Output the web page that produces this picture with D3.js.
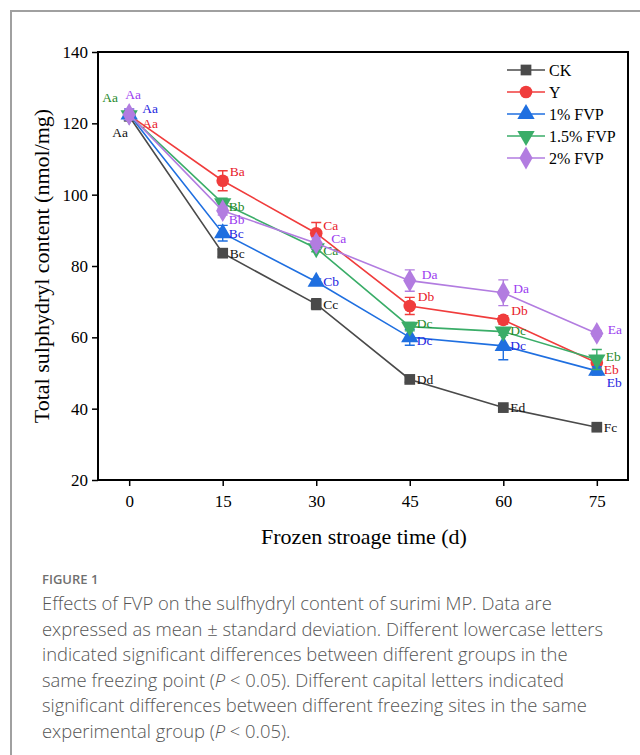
<!DOCTYPE html>
<html>
<head>
<meta charset="utf-8">
<script src="https://cdn.jsdelivr.net/npm/d3@7"></script>
<style>
  body { margin: 0; background: #fff; }
  svg { display: block; }
</style>
</head>
<body>
<svg id="chart" width="640" height="755"></svg>
<script>
// dane
const days = [0, 15, 30, 45, 60, 75];
const seriesNames = ["CK", "Y", "1% FVP", "1.5% FVP", "2% FVP"];
const ckValues = [122.0, 83.6, 69.3, 48.2, 40.3, 34.8];
const yValues = [122.3, 103.9, 89.2, 68.8, 64.9, 52.9];
const fvp1Values = [122.5, 89.2, 75.6, 60.0, 57.6, 50.6];
const fvp15Values = [122.3, 97.6, 85.0, 63.0, 61.6, 53.8];
const fvp2Values = [122.5, 95.5, 86.4, 75.9, 72.5, 61.1];
const ckErr = [1.2, 1.0, 1.5, 0.8, 0.7, 0.8];
const yErr = [1.0, 2.8, 3.0, 2.4, 1.2, 1.5];
const fvp1Err = [1.5, 2.2, 0.8, 2.2, 3.9, 1.2];
const fvp15Err = [1.2, 1.4, 1.0, 1.2, 1.0, 2.8];
const fvp2Err = [1.5, 1.2, 1.5, 3.0, 3.6, 0.8];
const ckLetters = ["Aa", "Bc", "Cc", "Dd", "Ed", "Fc"];
const yLetters = ["Aa", "Ba", "Ca", "Db", "Db", "Eb"];
const fvp1Letters = ["Aa", "Bc", "Cb", "Dc", "Dc", "Eb"];
const fvp15Letters = ["Aa", "Bb", "Ca", "Dc", "Dc", "Eb"];
const fvp2Letters = ["Aa", "Bb", "Ca", "Da", "Da", "Ea"];
const yTicks = [20, 40, 60, 80, 100, 120, 140];

// przesunięcia etykiet (układ, nie dane)
const labelOffsets = [
  [[-17, 16], [7, 0], [7, 0], [7, 0], [7, 0], [7, 0]],
  [[13, 8], [7, -9], [7, -8], [8, -9], [8, -9], [7, 7]],
  [[13, -6], [6, 0], [7, 0], [7, 3], [7, 0], [10, 12]],
  [[-27, -18], [6, 3], [7, 2], [7, -3], [7, -1], [9, -3]],
  [[-4, -20], [6, 9], [15, -5], [12, -6], [10, -4], [11, -4]]
];
const lineColors = ["#4a4a4a", "#f03c3c", "#1f6fe0", "#3aad68", "#b27ce0"];
const labelColors = ["#111111", "#e8202a", "#2424e0", "#1f8a2a", "#9b3cf0"];
const symbols = [d3.symbolSquare, d3.symbolCircle, d3.symbolTriangle, d3.symbolTriangle, d3.symbolDiamond];
const symbolSizes = [115, 125, 130, 130, 150];

const series = [
  { values: ckValues, err: ckErr, letters: ckLetters },
  { values: yValues, err: yErr, letters: yLetters },
  { values: fvp1Values, err: fvp1Err, letters: fvp1Letters },
  { values: fvp15Values, err: fvp15Err, letters: fvp15Letters },
  { values: fvp2Values, err: fvp2Err, letters: fvp2Letters }
];

const svg = d3.select("#chart");
const serif = "'Liberation Serif', 'Times New Roman', serif";

// ramka strony
svg.append("path")
  .attr("d", "M11,755 L11,11 L640,11")
  .attr("fill", "none")
  .attr("stroke", "#a0a0a0")
  .attr("stroke-width", 2);

const plotLeft = 98, plotRight = 628, plotTop = 52, plotBottom = 480;
const x = d3.scaleLinear().domain([-5, 80]).range([plotLeft, plotRight]);
const y = d3.scaleLinear().domain([20, 140]).range([plotBottom, plotTop]);

// osie
const yAxis = svg.append("g")
  .attr("transform", `translate(${plotLeft},0)`)
  .call(d3.axisLeft(y).tickValues(yTicks).tickSize(6).tickPadding(4).tickSizeOuter(0));
const xAxis = svg.append("g")
  .attr("transform", `translate(0,${plotBottom})`)
  .call(d3.axisBottom(x).tickValues(days).tickSize(6).tickPadding(9).tickSizeOuter(0));
[yAxis, xAxis].forEach(g => {
  g.select(".domain").remove();
  g.selectAll("line").attr("stroke", "#000").attr("stroke-width", 1.5);
  g.selectAll("text").attr("font-family", serif).attr("font-size", 17).attr("fill", "#000");
});

svg.append("rect")
  .attr("x", plotLeft).attr("y", plotTop)
  .attr("width", plotRight - plotLeft).attr("height", plotBottom - plotTop)
  .attr("fill", "none").attr("stroke", "#000").attr("stroke-width", 2);

svg.append("text")
  .attr("transform", `translate(49,${(plotTop + plotBottom) / 2}) rotate(-90)`)
  .attr("text-anchor", "middle")
  .attr("font-family", serif).attr("font-size", 22)
  .text("Total sulphydryl content (nmol/mg)");
svg.append("text")
  .attr("x", 364).attr("y", 544)
  .attr("text-anchor", "middle")
  .attr("font-family", serif).attr("font-size", 22)
  .text("Frozen stroage time (d)");

const line = d3.line().x((d, i) => x(days[i])).y(d => y(d));

series.forEach((s, k) => {
  const g = svg.append("g");
  g.append("path")
    .attr("d", line(s.values))
    .attr("fill", "none")
    .attr("stroke", lineColors[k])
    .attr("stroke-width", 1.6);

  // słupki błędów
  s.values.forEach((v, i) => {
    const cx = x(days[i]);
    const y1 = y(v + s.err[i]), y2 = y(v - s.err[i]);
    g.append("path")
      .attr("d", `M${cx},${y1}V${y2}M${cx - 5},${y1}H${cx + 5}M${cx - 5},${y2}H${cx + 5}`)
      .attr("stroke", lineColors[k])
      .attr("stroke-width", 1.4)
      .attr("fill", "none");
  });

  const rot = k === 3 ? 180 : 0;
  g.selectAll(".pt")
    .data(s.values)
    .join("path")
    .attr("d", d3.symbol().type(symbols[k]).size(symbolSizes[k]))
    .attr("transform", (d, i) => `translate(${x(days[i])},${y(d)}) rotate(${rot})`)
    .attr("fill", lineColors[k]);

  g.selectAll(".lbl")
    .data(s.letters)
    .join("text")
    .attr("x", (d, i) => x(days[i]) + labelOffsets[k][i][0])
    .attr("y", (d, i) => y(s.values[i]) + labelOffsets[k][i][1])
    .attr("dominant-baseline", "central")
    .attr("font-family", serif).attr("font-size", 13.5)
    .attr("fill", labelColors[k])
    .text(d => d);
});

// legenda
const legend = svg.append("g").attr("transform", "translate(507,70)");
seriesNames.forEach((name, k) => {
  const row = legend.append("g").attr("transform", `translate(0,${k * 22})`);
  row.append("line").attr("x1", 0).attr("x2", 38)
    .attr("stroke", lineColors[k]).attr("stroke-width", 1.6);
  row.append("path")
    .attr("d", d3.symbol().type(symbols[k]).size(symbolSizes[k]))
    .attr("transform", `translate(19,0) rotate(${k === 3 ? 180 : 0})`)
    .attr("fill", lineColors[k]);
  row.append("text").attr("x", 42).attr("y", 0)
    .attr("dominant-baseline", "central")
    .attr("font-family", serif).attr("font-size", 16)
    .text(name);
});

// podpis rysunku
const sans = "'Open Sans', 'Noto Sans', sans-serif";
svg.append("text")
  .attr("x", 42).attr("y", 584)
  .attr("font-family", sans).attr("font-size", 13).attr("font-weight", 600)
  .attr("fill", "#707070")
  .text("FIGURE 1");
const captionLines = [
  "Effects of FVP on the sulfhydryl content of surimi MP. Data are",
  "expressed as mean \u00b1 standard deviation. Different lowercase letters",
  "indicated significant differences between different groups in the",
  "same freezing point (<i>P</i> < 0.05). Different capital letters indicated",
  "significant differences between different freezing sites in the same",
  "experimental group (<i>P</i> < 0.05)."
];
const cap = svg.append("text")
  .attr("font-family", sans).attr("font-size", 18.4).attr("font-weight", 300)
  .attr("fill", "#555");
captionLines.forEach((ln, i) => {
  const t = cap.append("tspan").attr("x", 42).attr("y", 610 + i * 25.5);
  ln.split(/(<i>P<\/i>)/).forEach(part => {
    if (part === "<i>P</i>") t.append("tspan").attr("font-style", "italic").text("P");
    else if (part) t.append("tspan").text(part);
  });
});
</script>
</body>
</html>
